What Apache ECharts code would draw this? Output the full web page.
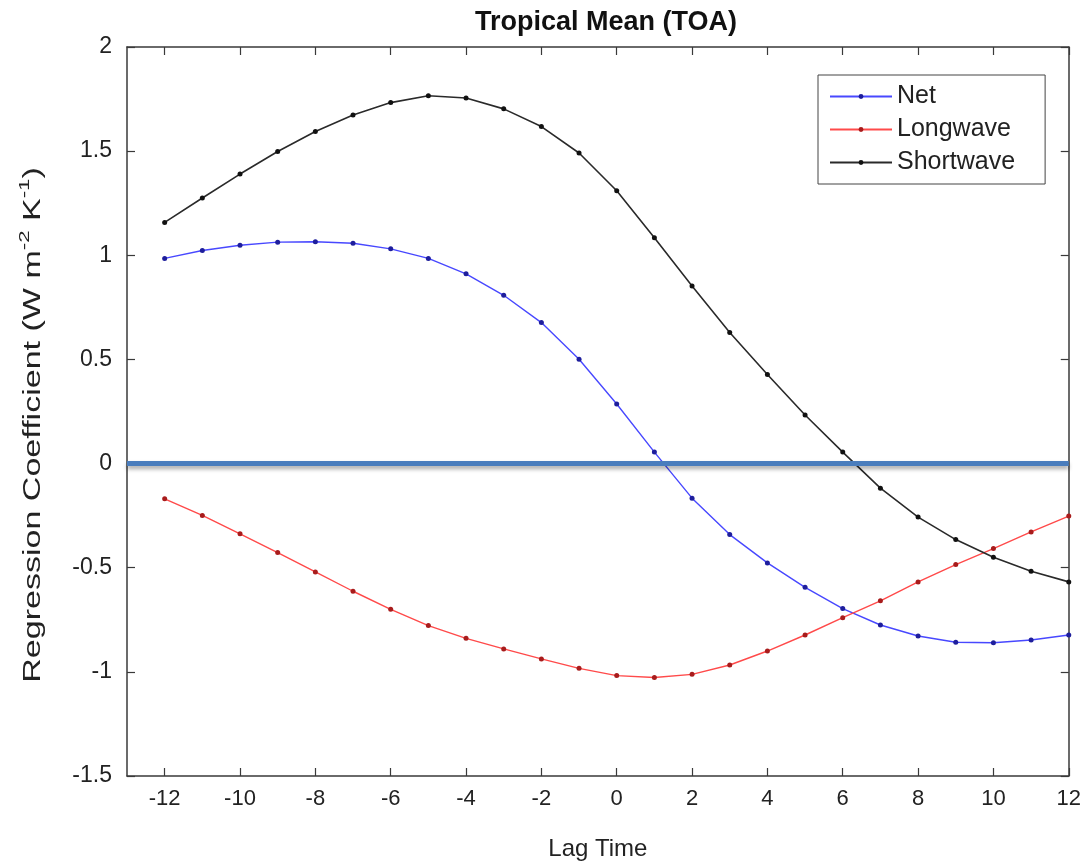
<!DOCTYPE html>
<html>
<head>
<meta charset="utf-8">
<title>Tropical Mean (TOA)</title>
<script src="https://cdn.jsdelivr.net/npm/echarts@6/dist/echarts.min.js"></script>
<style>
  html, body { margin: 0; padding: 0; background: #ffffff; }
  #chart { width: 1084px; height: 866px; }
</style>
</head>
<body>
<div id="chart"></div>
<script>
// Lag (months) and regression coefficients at the top of atmosphere
const lags = [-12, -11, -10, -9, -8, -7, -6, -5, -4, -3, -2, -1, 0, 1, 2, 3, 4, 5, 6, 7, 8, 9, 10, 11, 12];
const netValues = [0.985, 1.023, 1.048, 1.063, 1.065, 1.058, 1.031, 0.985, 0.911, 0.808, 0.677, 0.501, 0.286,
                   0.055, -0.166, -0.341, -0.477, -0.594, -0.696, -0.775, -0.828, -0.858, -0.860, -0.847, -0.823];
const longwaveValues = [-0.169, -0.249, -0.337, -0.427, -0.520, -0.613, -0.700, -0.778, -0.839, -0.890, -0.938, -0.983, -1.018,
                        -1.027, -1.012, -0.967, -0.900, -0.823, -0.740, -0.659, -0.568, -0.485, -0.408, -0.328, -0.252];
const shortwaveValues = [1.158, 1.275, 1.390, 1.498, 1.594, 1.674, 1.733, 1.766, 1.755, 1.703, 1.618, 1.491, 1.310,
                         1.084, 0.852, 0.629, 0.428, 0.233, 0.055, -0.118, -0.257, -0.365, -0.450, -0.517, -0.568];
const xTickValues = [-12, -10, -8, -6, -4, -2, 0, 2, 4, 6, 8, 10, 12];
const seriesNames = ['Net', 'Longwave', 'Shortwave'];

const FONT = '"Liberation Sans", Arial, Helvetica, sans-serif';
const AXIS_COLOR = '#3a3a3a';
const TEXT_COLOR = '#222222';

function pairs(values) {
  return lags.map((lag, i) => [lag, values[i]]);
}

function lineSeries(name, values, lineColor, dotColor, width) {
  return {
    name: name,
    type: 'line',
    data: pairs(values),
    symbol: 'circle',
    symbolSize: 5,
    showSymbol: true,
    lineStyle: { color: lineColor, width: width },
    itemStyle: { color: dotColor },
    emphasis: { disabled: true },
    z: 3
  };
}

const chart = echarts.init(document.getElementById('chart'), null, { renderer: 'canvas' });

const boxAxisLine = { show: true, onZero: false, lineStyle: { color: AXIS_COLOR, width: 1.5 } };
const inwardTick = { show: true, inside: true, length: 8, lineStyle: { color: AXIS_COLOR, width: 1.2 } };

chart.setOption({
  animation: false,
  backgroundColor: '#ffffff',
  title: {
    text: 'Tropical Mean (TOA)',
    left: 601,
    top: 4,
    textAlign: 'center',
    textStyle: { fontFamily: FONT, fontSize: 27, fontWeight: 'bold', color: '#111' }
  },
  legend: {
    orient: 'vertical',
    left: 818,
    top: 75,
    padding: [9, 30, 9, 11],
    itemWidth: 62,
    itemHeight: 6,
    itemGap: 8,
    backgroundColor: '#ffffff',
    borderColor: '#444',
    borderWidth: 1,
    data: seriesNames,
    textStyle: { fontFamily: FONT, fontSize: 25, color: TEXT_COLOR, lineHeight: 25 }
  },
  // y-axis title, stretched along its length to the height it spans
  graphic: [{
    type: 'text',
    x: 31,
    y: 425,
    rotation: Math.PI / 2,
    scaleX: 1.48,
    silent: true,
    style: {
      text: '{a|Regression Coefficient (W m}{s|-2}{a| K}{s|-1}{a|)}',
      align: 'center',
      verticalAlign: 'middle',
      rich: {
        a: { fontFamily: FONT, fontSize: 23, fill: TEXT_COLOR, lineHeight: 28, verticalAlign: 'bottom' },
        s: { fontFamily: FONT, fontSize: 15, fill: TEXT_COLOR, lineHeight: 28, verticalAlign: 'top' }
      }
    }
  }],
  grid: { left: 127, right: 11, top: 47, bottom: 88, containLabel: false },
  xAxis: [
    {
      type: 'value',
      min: -13,
      max: 12,
      name: 'Lag Time',
      nameLocation: 'middle',
      nameGap: 61,
      nameTextStyle: { fontFamily: FONT, fontSize: 24, color: TEXT_COLOR },
      axisLine: boxAxisLine,
      axisTick: Object.assign({ customValues: xTickValues }, inwardTick),
      axisLabel: { customValues: xTickValues, fontFamily: FONT, fontSize: 22, color: TEXT_COLOR, margin: 12 },
      splitLine: { show: false }
    },
    {
      type: 'value',
      position: 'top',
      min: -13,
      max: 12,
      axisLine: boxAxisLine,
      axisTick: Object.assign({ customValues: xTickValues }, inwardTick),
      axisLabel: { show: false },
      splitLine: { show: false }
    }
  ],
  yAxis: [
    {
      type: 'value',
      min: -1.5,
      max: 2,
      interval: 0.5,
      axisLine: boxAxisLine,
      axisTick: inwardTick,
      axisLabel: { fontFamily: FONT, fontSize: 23, color: TEXT_COLOR, margin: 15 },
      splitLine: { show: false }
    },
    {
      type: 'value',
      position: 'right',
      min: -1.5,
      max: 2,
      interval: 0.5,
      axisLine: boxAxisLine,
      axisTick: inwardTick,
      axisLabel: { show: false },
      splitLine: { show: false }
    }
  ],
  series: [
    lineSeries('Net', netValues, '#4848ff', '#1e1e9c', 1.4),
    lineSeries('Longwave', longwaveValues, '#ff4a4a', '#a81c1c', 1.4),
    lineSeries('Shortwave', shortwaveValues, '#2a2a2a', '#111111', 1.6),
    {
      // zero reference line across the whole plot
      name: 'zero',
      type: 'line',
      data: [],
      silent: true,
      markLine: {
        silent: true,
        symbol: 'none',
        label: { show: false },
        lineStyle: {
          color: '#4a7dbd',
          width: 5,
          type: 'solid',
          shadowColor: 'rgba(0,0,0,0.35)',
          shadowBlur: 4,
          shadowOffsetY: 3
        },
        data: [{ yAxis: 0 }]
      },
      z: 4
    }
  ]
});
</script>
</body>
</html>
